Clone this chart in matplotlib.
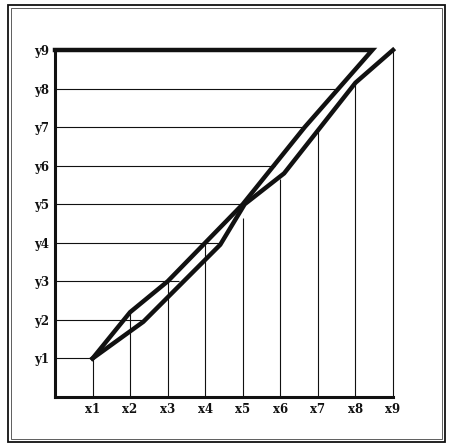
import matplotlib.pyplot as plt
from matplotlib.patches import Rectangle

# grid levels and labels
levels = [1, 2, 3, 4, 5, 6, 7, 8, 9]
x_labels = ['x1', 'x2', 'x3', 'x4', 'x5', 'x6', 'x7', 'x8', 'x9']
y_labels = ['y1', 'y2', 'y3', 'y4', 'y5', 'y6', 'y7', 'y8', 'y9']

# upper/left curve (joins the top line at y9)
curve_a_x = [1, 2, 3, 4, 5, 6.65, 8.45]
curve_a_y = [1, 2.2, 3, 4, 5, 7, 9]

# lower/right curve
curve_b_x = [1, 2.35, 4.4, 5.05, 6.1, 8.0, 9]
curve_b_y = [1, 1.95, 3.95, 5.0, 5.8, 8.15, 9]

# where the thin grid lines stop
vert_top = [1, 2.2, 3.0, 4.0, 4.65, 5.65, 6.9, 8.15, 9]
horiz_end = [1, 2.35, 3.3, 4.4, 5.05, 5.85, 6.65, 7.5]

W, H = 451, 443
fig = plt.figure(figsize=(W / 100, H / 100), dpi=100)
ax = fig.add_axes([55 / W, (H - 397) / H, 338 / W, 347 / H])
ax.set_xlim(0, 9)
ax.set_ylim(0, 9)

ink = '#111111'

# thin construction lines
ax.vlines(levels, 0, vert_top, color=ink, lw=0.8, clip_on=False)
ax.hlines(levels[:-1], 0, horiz_end, color=ink, lw=0.8, clip_on=False)

# thick curves
ax.plot(curve_a_x + [0], curve_a_y + [9], color=ink, lw=3.2,
        solid_joinstyle='miter', clip_on=False)
ax.plot(curve_b_x, curve_b_y, color=ink, lw=3.2,
        solid_joinstyle='miter', clip_on=False)

for side in ['top', 'right']:
    ax.spines[side].set_visible(False)
for side in ['left', 'bottom']:
    ax.spines[side].set_linewidth(2.2)
    ax.spines[side].set_color(ink)

ax.set_xticks(levels)
ax.set_xticklabels(x_labels)
ax.set_yticks(levels)
ax.set_yticklabels(y_labels)
ax.tick_params(length=0, pad=4, labelsize=8.5, labelcolor=ink)
for t in ax.get_xticklabels() + ax.get_yticklabels():
    t.set_family('DejaVu Serif')
    t.set_fontweight('bold')

# double frame around the whole plate
fig.add_artist(Rectangle((8 / W, 1 - 442 / H), 437 / W, 437 / H,
                         transform=fig.transFigure, fill=False, lw=1.3, ec=ink))
fig.add_artist(Rectangle((11 / W, 1 - 439 / H), 431 / W, 431 / H,
                         transform=fig.transFigure, fill=False, lw=0.6, ec='#444444'))

fig.savefig('out.png', dpi=100, facecolor='white')
